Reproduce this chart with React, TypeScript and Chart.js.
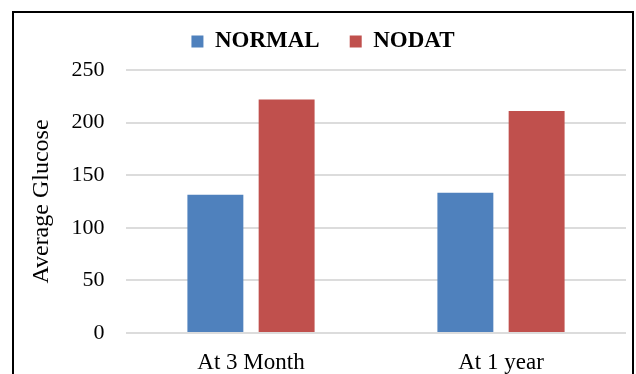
import React, { useEffect, useRef } from "react";
import { Chart, registerables } from "chart.js";

Chart.register(...registerables);

const categories = ["At 3 Month", "At 1 year"];
const normalValues = [131.5, 133.3];
const nodatValues = [222, 211];
const seriesLabels = ["NORMAL", "NODAT"];
const yTicks = [0, 50, 100, 150, 200, 250];
const yTitle = "Average Glucose";

const FONT = "'Liberation Serif', 'Times New Roman', serif";

const legendSpacer = {
  id: "legendSpacer",
  beforeInit(chart: any) {
    const legend = chart.legend;
    if (!legend) return;
    const orig = legend.fit;
    legend.fit = function () {
      orig.call(this);
      this.height += 7;
    };
  },
};

export default function App() {
  const ref = useRef<HTMLCanvasElement | null>(null);

  useEffect(() => {
    if (!ref.current) return;
    const chart = new Chart(ref.current, {
      type: "bar",
      data: {
        labels: categories,
        datasets: [
          {
            label: seriesLabels[0],
            data: normalValues,
            backgroundColor: "#4F81BD",
            categoryPercentage: 0.57,
            barPercentage: 0.785,
          },
          {
            label: seriesLabels[1],
            data: nodatValues,
            backgroundColor: "#C0504D",
            categoryPercentage: 0.57,
            barPercentage: 0.785,
          },
        ],
      },
      options: {
        responsive: false,
        animation: false,
        layout: { padding: { top: 0, left: 20, right: 10, bottom: 0 } },
        plugins: {
          tooltip: { enabled: false },
          legend: {
            display: true,
            position: "top",
            labels: {
              boxWidth: 12,
              boxHeight: 12,
              padding: 30,
              color: "#000",
              font: { family: FONT, size: 23, weight: "bold" },
            },
          },
        },
        scales: {
          x: {
            grid: { display: false, drawTicks: false },
            border: { display: false },
            afterFit: (axis: any) => {
              axis.height = 41;
            },
            ticks: {
              padding: 16,
              color: "#000",
              font: { family: FONT, size: 23 },
            },
          },
          y: {
            min: yTicks[0],
            max: yTicks[yTicks.length - 1],
            afterBuildTicks: (axis: any) => {
              axis.ticks = yTicks.map((v) => ({ value: v }));
            },
            afterFit: (axis: any) => {
              axis.width = 106;
            },
            grid: { color: "#dcdcdc", lineWidth: 2, drawTicks: false },
            border: { display: false },
            ticks: {
              padding: 21.5,
              color: "#000",
              font: { family: FONT, size: 22 },
            },
            title: {
              display: true,
              text: yTitle,
              color: "#000",
              padding: { top: 7, bottom: 0 },
              font: { family: FONT, size: 24 },
            },
          },
        },
      },
      plugins: [legendSpacer],
    });
    return () => chart.destroy();
  }, []);

  return (
    <div
      style={{
        position: "fixed",
        left: 0,
        top: 0,
        width: 636,
        height: 374,
        background: "#fff",
        overflow: "hidden",
      }}
    >
      <canvas
        ref={ref}
        width={636}
        height={374}
        style={{ position: "absolute", left: 0, top: 0, width: 636, height: 374 }}
      />
      <div
        style={{
          position: "absolute",
          left: 12,
          top: 11,
          width: 618,
          height: 420,
          border: "2px solid #000",
          pointerEvents: "none",
        }}
      />
    </div>
  );
}
